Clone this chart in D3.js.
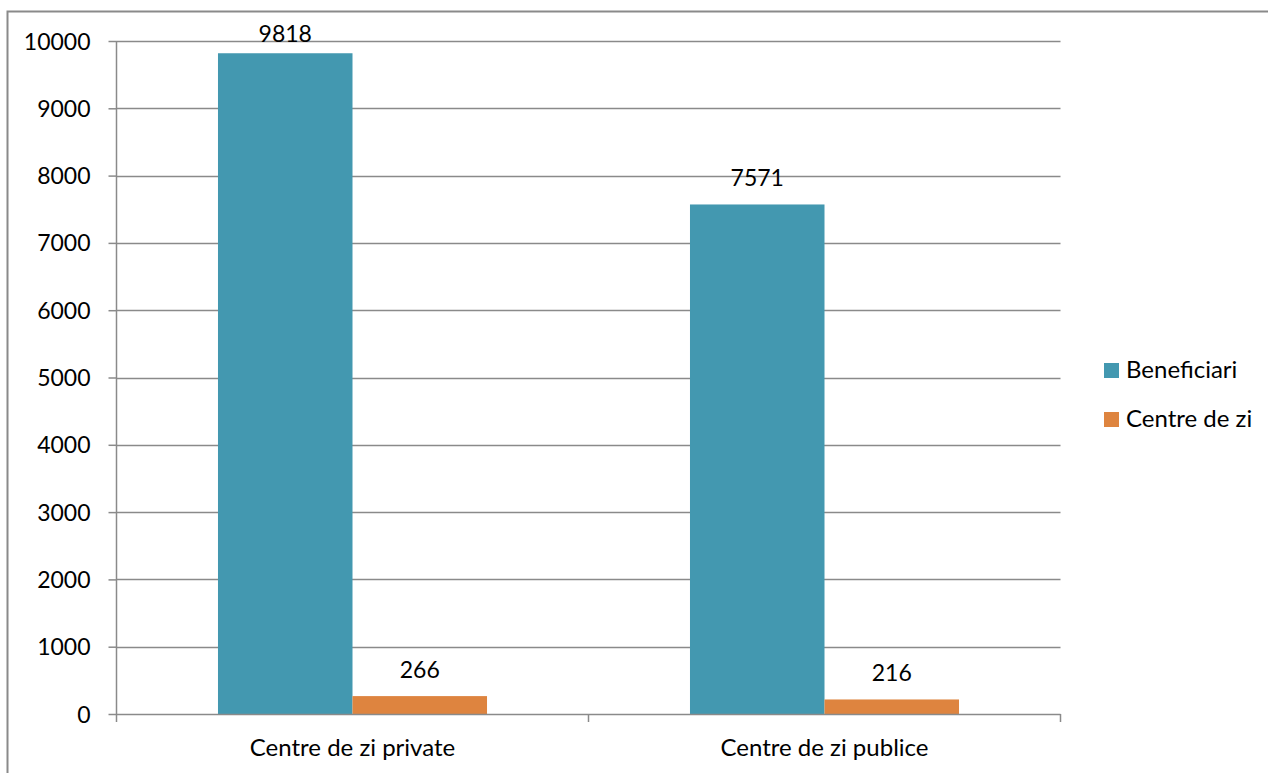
<!DOCTYPE html>
<html><head><meta charset="utf-8">
<script src="https://cdn.jsdelivr.net/npm/d3@7"></script>
<style>
html,body{margin:0;padding:0;background:#fff;}
svg{display:block;font-family:Lato,"Liberation Sans",sans-serif;}
</style></head>
<body><svg id="c" width="1268" height="773"></svg>
<script>
const categories = ["Centre de zi private", "Centre de zi publice"];
const seriesNames = ["Beneficiari", "Centre de zi"];
const beneficiari = [9818, 7571];
const centreDeZi = [266, 216];
const yTicks = [0,1000,2000,3000,4000,5000,6000,7000,8000,9000,10000];
const colors = ["#4398B0", "#DE843F"];

const svg = d3.select("#c");
const L = 116.5, R = 1060.5, T = 41, B = 714;
const fsNum = 23, fsTxt = 24;

// outer border
svg.append("path").attr("d","M7.5,773 V11.5 H1268").attr("fill","none").attr("stroke","#8a8a8a").attr("stroke-width",2);

const x0 = d3.scaleBand().domain(categories).range([L, R]).paddingInner(0.43).paddingOuter(0.215);
const x1 = d3.scaleBand().domain(seriesNames).range([0, x0.bandwidth()]);
const y = d3.scaleLinear().domain([0, 10000]).range([B, T]);

// grid
svg.append("g").selectAll("line").data(yTicks.filter(d=>d>0)).join("line")
  .attr("x1", L).attr("x2", R).attr("y1", d=>Math.round(y(d))+0.5).attr("y2", d=>Math.round(y(d))+0.5)
  .attr("stroke","#8a8a8a").attr("stroke-width",1.5);

// y axis
const ya = svg.append("g").attr("transform",`translate(${L},0)`)
  .call(d3.axisLeft(y).tickValues(yTicks).tickSize(8).tickPadding(18).tickFormat(d3.format("d")));
ya.select(".domain").attr("stroke","#8a8a8a").attr("stroke-width",1.5).attr("d",`M0,${T}V${B}`);
ya.selectAll(".tick line").attr("stroke","#8a8a8a").attr("stroke-width",1.5);
ya.selectAll(".tick text").attr("font-size",fsNum).attr("font-family","Lato").attr("fill","#000").attr("dy","0.35em");

const data = categories.map((c,i)=>({cat:c, vals:[beneficiari[i], centreDeZi[i]]}));

const g = svg.append("g");
data.forEach(d=>{
  d.vals.forEach((v,j)=>{
    const bx = x0(d.cat) + x1(seriesNames[j]);
    g.append("rect").attr("x", bx).attr("y", y(v)).attr("width", x1.bandwidth()).attr("height", B - y(v)).attr("fill", colors[j]);
    g.append("text").attr("x", bx + x1.bandwidth()/2).attr("y", Math.max(y(v)-18, T+1))
      .attr("text-anchor","middle").attr("font-size",fsNum).attr("fill","#000").text(v);
  });
});

// x axis
const xa = svg.append("g").attr("transform",`translate(0,${B})`);
xa.append("line").attr("x1",L).attr("x2",R).attr("y1",0.5).attr("y2",0.5).attr("stroke","#8a8a8a").attr("stroke-width",1.5);
const xt = [L, (L+R)/2, R];
xa.selectAll("line.t").data(xt).join("line").attr("class","t")
  .attr("x1",d=>d).attr("x2",d=>d).attr("y1",0).attr("y2",8).attr("stroke","#8a8a8a").attr("stroke-width",1.5);
xa.selectAll("text").data(categories).join("text")
  .attr("x", d=>x0(d)+x0.bandwidth()/2).attr("y", 42).attr("text-anchor","middle")
  .attr("font-size",fsTxt).attr("fill","#000").text(d=>d);

// legend
const lg = svg.append("g");
seriesNames.forEach((s,i)=>{
  const ly = 363 + i*49;
  lg.append("rect").attr("x",1104).attr("y",ly).attr("width",15).attr("height",15).attr("fill",colors[i]);
  lg.append("text").attr("x",1126).attr("y",ly+15).attr("font-size",fsTxt).attr("fill","#000").text(s);
});
</script></body></html>
